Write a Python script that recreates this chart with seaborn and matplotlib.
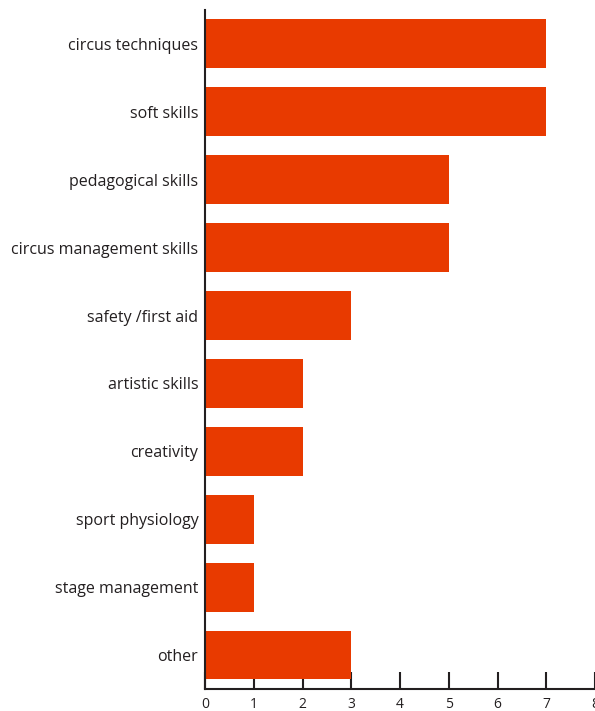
import pandas as pd
import matplotlib.pyplot as plt
import seaborn as sns

# data
skills = ["circus techniques", "soft skills", "pedagogical skills",
          "circus management skills", "safety /first aid", "artistic skills",
          "creativity", "sport physiology", "stage management", "other"]
counts = [7, 7, 5, 5, 3, 2, 2, 1, 1, 3]
xticks = [0, 1, 2, 3, 4, 5, 6, 7, 8]

df = pd.DataFrame({"skill": skills, "count": counts})

sns.set_style("white")
plt.rcParams['font.family'] = ['Open Sans', 'DejaVu Sans']

fig = plt.figure(figsize=(5.95, 7.11), dpi=100)
ax = fig.add_axes([0.345, 0.031, 0.655, 0.955])

sns.barplot(data=df, x="count", y="skill", orient="h", color="#E83A00",
            saturation=1, width=0.72, linewidth=0, ax=ax)

ax.set_xlim(0, 8)
ax.set_ylim(len(skills) - 0.5, -0.5)
ax.set_xticks(xticks)
ax.set_xlabel("")
ax.set_ylabel("")

sns.despine(ax=ax, top=True, right=True)
for side in ["left", "bottom"]:
    ax.spines[side].set_color("#231F20")
    ax.spines[side].set_linewidth(1.5)

ax.tick_params(axis="x", bottom=True, direction="in", length=12, width=1.5,
               color="#231F20", labelsize=10, pad=5.5, labelcolor="#231F20")
ax.tick_params(axis="y", left=False, length=0, labelsize=11.5, pad=5,
               labelcolor="#231F20")

fig.savefig("out.png", dpi=100)
